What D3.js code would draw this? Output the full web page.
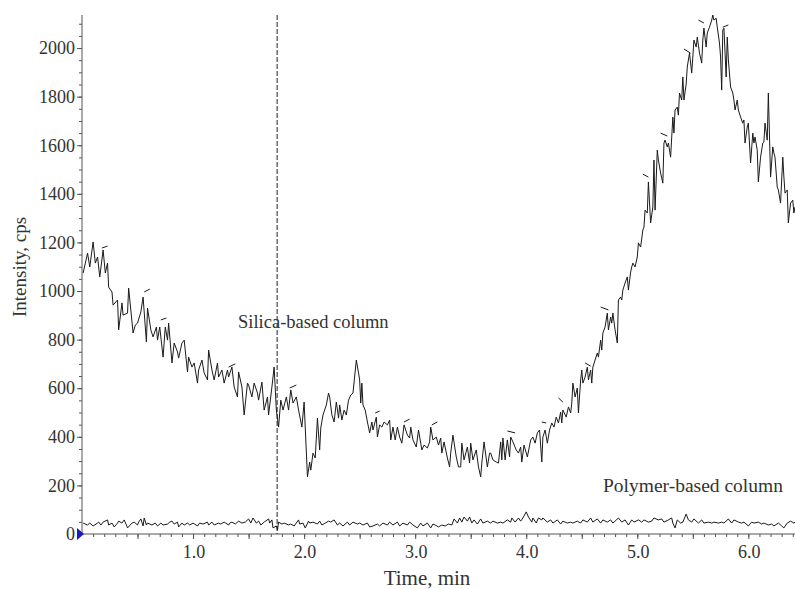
<!DOCTYPE html>
<html>
<head>
<meta charset="utf-8">
<script src="https://cdn.jsdelivr.net/npm/d3@7"></script>
<style>
  body { margin: 0; background: #fff; }
  svg text { font-family: "Liberation Serif", "DejaVu Serif", serif; fill: #333; }
</style>
</head>
<body>
<script>
// Chart data: [time (min), intensity (cps)]
const silicaSeries = [
  [0.01,1074],[0.05,1156],[0.07,1099],[0.10,1202],[0.12,1115],[0.14,1140],[0.16,1058],[0.19,1169],
  [0.21,1074],[0.23,1115],[0.24,1016],[0.27,996],[0.28,942],[0.32,963],[0.33,840],[0.36,951],
  [0.37,901],[0.41,909],[0.42,1012],[0.46,827],[0.48,860],[0.50,868],[0.53,914],[0.55,975],
  [0.58,790],[0.59,930],[0.62,840],[0.64,811],[0.67,852],[0.68,798],[0.70,852],[0.73,728],
  [0.75,852],[0.77,798],[0.78,868],[0.81,704],[0.83,786],[0.86,749],[0.87,724],[0.90,786],
  [0.92,798],[0.95,667],[0.96,728],[0.99,687],[1.01,704],[1.04,621],[1.05,675],[1.08,716],
  [1.10,663],[1.13,634],[1.14,757],[1.17,675],[1.19,634],[1.22,704],[1.23,646],[1.26,675],
  [1.28,621],[1.31,675],[1.32,646],[1.35,687],[1.37,605],[1.40,564],[1.41,667],[1.44,605],
  [1.46,490],[1.49,621],[1.50,613],[1.53,564],[1.55,621],[1.58,580],[1.59,551],[1.62,625],
  [1.64,510],[1.67,564],[1.68,490],[1.71,605],[1.73,687],[1.75,510],[1.77,440],[1.79,551],
  [1.81,510],[1.84,564],[1.86,510],[1.88,593],[1.90,539],[1.93,564],[1.95,510],[1.98,440],
  [2.00,543],[2.03,235],[2.05,296],[2.06,263],[2.08,333],[2.10,313],[2.12,477],[2.14,346],
  [2.15,436],[2.17,490],[2.20,531],[2.22,580],[2.23,564],[2.25,490],[2.27,461],[2.29,543],
  [2.31,477],[2.32,531],[2.34,469],[2.36,510],[2.38,490],[2.40,551],[2.42,572],[2.44,580],
  [2.47,716],[2.49,663],[2.50,634],[2.51,539],[2.52,621],[2.53,531],[2.55,510],[2.57,461],
  [2.59,416],[2.61,461],[2.62,428],[2.65,481],[2.66,399],[2.68,449],[2.70,440],[2.72,461],
  [2.75,449],[2.77,469],[2.78,387],[2.80,440],[2.82,387],[2.84,440],[2.86,399],[2.88,374],
  [2.90,449],[2.93,407],[2.95,395],[2.96,440],[2.98,387],[3.01,358],[3.03,428],[3.05,374],
  [3.06,346],[3.08,366],[3.11,354],[3.13,379],[3.14,440],[3.16,387],[3.19,399],[3.21,366],
  [3.23,395],[3.24,333],[3.26,379],[3.29,313],[3.31,276],[3.32,333],[3.34,407],[3.37,317],
  [3.39,276],[3.41,276],[3.42,374],[3.44,305],[3.47,358],[3.49,292],[3.50,374],[3.52,305],
  [3.55,346],[3.57,276],[3.59,235],[3.60,292],[3.62,379],[3.65,276],[3.67,333],[3.68,333],
  [3.70,305],[3.73,296],[3.75,292],[3.77,379],[3.78,305],[3.79,395],[3.81,305],[3.83,387],
  [3.85,317],[3.86,399],[3.88,379],[3.91,346],[3.93,333],[3.95,358],[3.96,296],[3.98,366],
  [4.01,317],[4.04,387],[4.06,399],[4.08,374],[4.10,416],[4.12,428],[4.14,296],[4.15,399],
  [4.17,428],[4.19,374],[4.21,428],[4.23,457],[4.25,440],[4.27,481],[4.29,457],[4.31,502],
  [4.32,457],[4.33,510],[4.36,481],[4.38,523],[4.40,498],[4.41,539],[4.42,621],[4.44,564],
  [4.46,601],[4.47,498],[4.49,634],[4.50,675],[4.51,621],[4.53,646],[4.55,687],[4.56,634],
  [4.58,675],[4.59,621],[4.60,687],[4.62,716],[4.64,745],[4.65,728],[4.67,798],[4.68,757],
  [4.69,827],[4.71,852],[4.73,909],[4.74,840],[4.76,893],[4.77,868],[4.78,909],[4.80,840],
  [4.82,786],[4.83,963],[4.85,975],[4.86,963],[4.87,1004],[4.89,1033],[4.91,1058],[4.92,1004],
  [4.94,1078],[4.95,1099],[4.96,1115],[4.98,1099],[5.00,1140],[5.01,1198],[5.03,1181],[5.05,1251],
  [5.06,1263],[5.07,1333],[5.09,1321],[5.10,1449],[5.12,1280],[5.14,1346],[5.15,1539],[5.16,1333],
  [5.18,1580],[5.19,1539],[5.21,1486],[5.23,1444],[5.24,1609],[5.25,1621],[5.27,1593],[5.28,1609],
  [5.30,1551],[5.32,1716],[5.33,1650],[5.34,1745],[5.36,1757],[5.37,1724],[5.38,1815],[5.40,1786],
  [5.41,1881],[5.42,1786],[5.44,1852],[5.45,1922],[5.47,1979],[5.49,1897],[5.50,1963],[5.51,2033],
  [5.53,2004],[5.54,2045],[5.56,1979],[5.58,1938],[5.59,2033],[5.60,2082],[5.62,2004],[5.63,2062],
  [5.65,2086],[5.67,2115],[5.68,2136],[5.69,2115],[5.71,2123],[5.72,2086],[5.74,2021],[5.75,1963],
  [5.76,1827],[5.77,2074],[5.78,2082],[5.80,1881],[5.81,2045],[5.82,1951],[5.84,1840],[5.86,1815],
  [5.87,1786],[5.88,1745],[5.90,1786],[5.91,1745],[5.93,1716],[5.95,1691],[5.96,1704],[5.97,1609],
  [5.99,1675],[6.00,1691],[6.02,1527],[6.04,1650],[6.05,1609],[6.06,1634],[6.08,1580],[6.09,1449],
  [6.11,1551],[6.13,1609],[6.14,1613],[6.15,1691],[6.17,1621],[6.18,1815],[6.20,1469],[6.22,1593],
  [6.23,1568],[6.24,1551],[6.26,1428],[6.27,1416],[6.29,1362],[6.31,1551],[6.32,1469],[6.33,1403],
  [6.35,1416],[6.36,1280],[6.38,1362],[6.40,1374],[6.41,1321],[6.42,1346]
];

const polymerSeries = [
  [0.01,45],[0.05,37],[0.07,45],[0.10,33],[0.14,45],[0.15,49],[0.17,37],[0.19,49],[0.23,58],[0.24,37],
  [0.27,45],[0.29,29],[0.32,45],[0.33,53],[0.36,45],[0.38,58],[0.40,37],[0.41,25],[0.45,45],[0.47,49],
  [0.50,37],[0.51,49],[0.53,62],[0.55,33],[0.56,66],[0.58,37],[0.59,45],[0.63,37],[0.66,45],[0.68,33],
  [0.71,45],[0.73,37],[0.77,41],[0.79,49],[0.81,53],[0.83,41],[0.86,49],[0.87,29],[0.90,45],[0.92,37],
  [0.95,45],[0.97,37],[1.00,45],[1.04,33],[1.06,45],[1.09,41],[1.13,49],[1.14,37],[1.17,49],[1.19,37],
  [1.23,45],[1.25,41],[1.28,49],[1.32,37],[1.33,45],[1.35,49],[1.38,41],[1.41,53],[1.44,45],[1.47,49],
  [1.50,62],[1.52,45],[1.54,66],[1.57,45],[1.59,53],[1.61,37],[1.64,49],[1.68,62],[1.69,45],[1.71,58],
  [1.72,25],[1.75,33],[1.76,16],[1.77,49],[1.80,41],[1.82,45],[1.86,37],[1.88,41],[1.91,33],[1.95,58],
  [1.96,41],[1.99,45],[2.01,25],[2.04,53],[2.05,45],[2.08,49],[2.12,41],[2.14,53],[2.16,37],[2.19,45],
  [2.22,53],[2.24,49],[2.27,58],[2.30,37],[2.32,45],[2.35,33],[2.39,49],[2.41,37],[2.44,49],[2.48,41],
  [2.50,45],[2.53,37],[2.57,45],[2.59,29],[2.62,33],[2.66,41],[2.68,33],[2.71,45],[2.75,37],[2.77,49],
  [2.80,37],[2.84,49],[2.86,33],[2.89,45],[2.93,37],[2.95,49],[2.98,37],[3.02,25],[3.05,45],[3.07,33],
  [3.11,45],[3.14,25],[3.16,41],[3.18,37],[3.21,29],[3.24,37],[3.27,33],[3.30,41],[3.33,37],[3.35,62],
  [3.38,45],[3.40,66],[3.42,49],[3.44,70],[3.47,53],[3.49,70],[3.51,45],[3.53,58],[3.56,41],[3.59,62],
  [3.61,45],[3.65,53],[3.68,45],[3.70,53],[3.74,45],[3.77,49],[3.79,45],[3.83,58],[3.86,49],[3.87,66],
  [3.90,49],[3.93,66],[3.95,53],[3.97,66],[4.00,91],[4.02,70],[4.05,49],[4.06,66],[4.09,45],[4.11,66],
  [4.14,58],[4.15,66],[4.19,49],[4.22,58],[4.24,45],[4.28,58],[4.31,41],[4.33,53],[4.37,45],[4.40,49],
  [4.42,45],[4.46,53],[4.49,45],[4.51,58],[4.55,49],[4.58,66],[4.60,49],[4.64,62],[4.67,45],[4.69,58],
  [4.73,49],[4.76,58],[4.78,45],[4.80,53],[4.83,66],[4.86,49],[4.89,58],[4.92,37],[4.95,58],[4.97,49],
  [5.01,58],[5.04,49],[5.06,58],[5.10,49],[5.13,53],[5.15,66],[5.19,58],[5.22,62],[5.24,49],[5.28,58],
  [5.31,66],[5.32,45],[5.34,25],[5.36,58],[5.39,45],[5.41,49],[5.44,82],[5.46,58],[5.49,49],[5.51,62],
  [5.55,45],[5.58,58],[5.60,45],[5.64,49],[5.67,45],[5.69,49],[5.73,45],[5.76,49],[5.78,45],[5.82,62],
  [5.85,45],[5.87,58],[5.91,49],[5.94,45],[5.96,49],[6.00,33],[6.03,49],[6.05,45],[6.09,49],[6.12,41],
  [6.14,45],[6.18,37],[6.21,41],[6.23,33],[6.27,45],[6.30,33],[6.32,25],[6.35,45],[6.38,53],[6.41,45],
  [6.42,49]
];

// short slanted marks that sit above some peaks: [t0, v0, t1, v1]
const peakMarks = [
  [0.18,1177,0.23,1185],[0.56,996,0.61,1008],[0.71,881,0.76,889],[1.32,687,1.38,700],
  [1.87,601,1.93,613],[2.64,498,2.68,506],[2.90,461,2.95,473],[3.15,449,3.20,461],
  [3.83,424,3.90,416],[4.14,461,4.18,457],[4.29,560,4.33,543],[4.53,704,4.58,691],
  [4.67,934,4.74,922],[5.05,1481,5.10,1469],[5.21,1650,5.27,1638],[5.42,1996,5.48,1979],
  [5.55,2115,5.60,2103],[5.77,2086,5.82,2095]
];

const markerTime = 1.757;          // dashed vertical line
const xLabels = [1, 2, 3, 4, 5, 6];
const yLabels = [0, 200, 400, 600, 800, 1000, 1200, 1400, 1600, 1800, 2000];
const seriesNames = ['Silica-based column', 'Polymer-based column'];

const width = 795, height = 589;
const x = d3.scaleLinear().domain([0, 6.42]).range([82, 795]);
const y = d3.scaleLinear().domain([0, 2136]).range([534, 15]);

const svg = d3.select('body')
    .append('svg')
    .attr('width', width)
    .attr('height', height);

// y axis: minor ticks every 50, labelled every 200
svg.append('g')
    .attr('transform', `translate(${x(0)},0)`)
    .call(d3.axisLeft(y).tickValues(d3.range(0, 2101, 50)).tickSize(3).tickFormat(''))
    .call(g => g.select('.domain').remove())
    .selectAll('line').attr('stroke', '#555');

svg.append('g')
    .attr('transform', `translate(${x(0)},0)`)
    .call(d3.axisLeft(y).tickValues(yLabels).tickSize(5).tickPadding(2).tickFormat(d3.format('d')))
    .call(g => g.select('.domain').attr('d', `M0,${y(0)}V${y.range()[1]}`).attr('stroke', '#555'))
    .call(g => g.selectAll('line').attr('stroke', '#555'))
    .call(g => g.selectAll('text').style('font-size', '18px').attr('fill', '#333'));

// x axis: minor ticks every 0.1, longer every 0.5
svg.append('g')
    .attr('transform', `translate(0,${y(0)})`)
    .call(d3.axisBottom(x).tickValues(d3.range(1, 65).map(d => d / 10)).tickSize(3).tickFormat(''))
    .call(g => g.select('.domain').remove())
    .selectAll('line').attr('stroke', '#555');

svg.append('g')
    .attr('transform', `translate(0,${y(0)})`)
    .call(d3.axisBottom(x).tickValues(d3.range(0.5, 6.5, 0.5)).tickSize(5).tickFormat(''))
    .call(g => g.select('.domain').attr('d', `M${x(0)},0H${width}`).attr('stroke', '#555'))
    .selectAll('line').attr('stroke', '#555');

svg.append('g')
    .selectAll('text')
    .data(xLabels)
    .join('text')
        .attr('x', d => x(d) + 1)
        .attr('y', 558)
        .attr('text-anchor', 'middle')
        .style('font-size', '18px')
        .text(d => d.toFixed(1));

// axis titles
svg.append('text')
    .attr('x', 427)
    .attr('y', 585)
    .attr('text-anchor', 'middle')
    .style('font-size', '21px')
    .attr('fill', '#111')
    .text('Time, min');

svg.append('text')
    .attr('transform', 'translate(26,267) rotate(-90)')
    .attr('text-anchor', 'middle')
    .style('font-size', '19px')
    .attr('fill', '#111')
    .text('Intensity, cps');

// dashed marker line
svg.append('line')
    .attr('x1', x(markerTime)).attr('x2', x(markerTime))
    .attr('y1', y.range()[1]).attr('y2', y(0))
    .attr('stroke', '#222')
    .attr('stroke-width', 1)
    .attr('stroke-dasharray', '5,2');

// traces
const line = d3.line()
    .x(d => x(d[0]))
    .y(d => y(d[1]));

svg.selectAll('path.trace')
    .data([silicaSeries, polymerSeries])
    .join('path')
        .attr('class', 'trace')
        .attr('d', line)
        .attr('fill', 'none')
        .attr('stroke', '#1a1a1a')
        .attr('stroke-width', 1)
        .attr('stroke-linejoin', 'round');

svg.append('g')
    .selectAll('line')
    .data(peakMarks)
    .join('line')
        .attr('x1', d => x(d[0])).attr('y1', d => y(d[1]))
        .attr('x2', d => x(d[2])).attr('y2', d => y(d[3]))
        .attr('stroke', '#1a1a1a')
        .attr('stroke-width', 1);

// series labels
svg.append('text')
    .attr('x', 238).attr('y', 328)
    .style('font-size', '18.5px')
    .attr('fill', '#111')
    .text(seriesNames[0]);

svg.append('text')
    .attr('x', 603).attr('y', 492)
    .style('font-size', '19.5px')
    .attr('fill', '#111')
    .text(seriesNames[1]);

// blue start marker on the baseline
svg.append('path')
    .attr('d', `M${x(0) - 5},${y(0) - 6}L${x(0) + 2},${y(0)}L${x(0) - 5},${y(0) + 6}Z`)
    .attr('fill', '#1a1acc');
</script>
</body>
</html>
